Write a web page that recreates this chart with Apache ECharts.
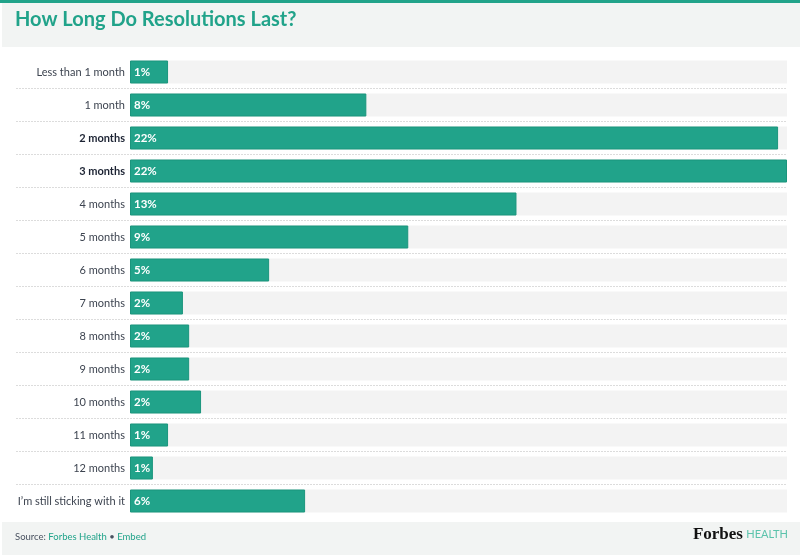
<!DOCTYPE html>
<html>
<head>
<meta charset="utf-8">
<script src="https://cdn.jsdelivr.net/npm/echarts@6/dist/echarts.min.js"></script>
<style>
  html, body { margin: 0; padding: 0; background: #fff; }
  #chart { width: 800px; height: 557px; }
</style>
</head>
<body>
<div id="chart"></div>
<script>
// 数据
var categories = [
	'Less than 1 month', '1 month', '2 months', '3 months', '4 months', '5 months', '6 months',
	'7 months', '8 months', '9 months', '10 months', '11 months', '12 months', 'I\u2019m still sticking with it'
]
var shares = [1.28, 7.95, 21.8, 22.1, 13.0, 9.36, 4.68, 1.78, 1.99, 1.99, 2.39, 1.28, 0.77, 5.89]
var boldCategories = ['2 months', '3 months']

var teal = '#21a38a'
var font = 'Lato, "Open Sans", sans-serif'

var rowH = 33
var top0 = 55.5

var chart = echarts.init(document.getElementById('chart'))

var option = {
	animation: false,
	backgroundColor: '#fff',
	graphic: [
		{ type: 'rect', shape: { x: 0, y: 0, width: 800, height: 3 }, style: { fill: teal } },
		{ type: 'rect', shape: { x: 2, y: 3, width: 798, height: 44 }, style: { fill: '#f2f4f3' } },
		{
			type: 'text', left: 15, top: 10,
			style: { text: 'How Long Do Resolutions Last?', fill: teal, font: 'bold 20px ' + font }
		},
		{ type: 'rect', shape: { x: 2, y: 522, width: 798, height: 33 }, style: { fill: '#f2f4f3' } },
		{
			type: 'text', left: 15, top: 532,
			style: {
				text: '{g|Source: }{t|Forbes Health}{g| \u2022 }{t|Embed}',
				rich: {
					g: { fill: '#4a5260', fontSize: 9.5, fontFamily: font },
					t: { fill: teal, fontSize: 9.5, fontFamily: font }
				}
			}
		},
		{
			type: 'text', right: 12, top: 526,
			style: {
				text: '{f|Forbes} {h|HEALTH}',
				rich: {
					f: { fill: '#111', fontSize: 17, fontWeight: 'bold', fontFamily: '"Liberation Serif", "DejaVu Serif", serif' },
					h: { fill: '#5cc3ac', fontSize: 11, fontFamily: font }
				}
			}
		}
	],
	grid: [
		{ left: 130, right: 13, top: top0, height: rowH * categories.length },
		// 行间虚线用
		{ left: 16, right: 13, top: top0 + rowH, height: rowH * (categories.length - 2) }
	],
	xAxis: [
		{ gridIndex: 0, type: 'value', min: 0, max: 'dataMax', show: false },
		{ gridIndex: 1, type: 'value', min: 0, max: 1, show: false }
	],
	yAxis: [
		{
			gridIndex: 0,
			type: 'category',
			inverse: true,
			data: categories,
			axisLine: { show: false },
			axisTick: { show: false },
			splitLine: { show: false },
			axisLabel: {
				margin: 5,
				formatter: function (v) {
					return boldCategories.indexOf(v) >= 0 ? '{b|' + v + '}' : '{n|' + v + '}'
				},
				rich: {
					n: { color: '#3d4450', fontSize: 11, fontFamily: font },
					b: { color: '#1c2333', fontSize: 11, fontWeight: 'bold', fontFamily: font }
				}
			}
		},
		{
			gridIndex: 1,
			type: 'value',
			inverse: true,
			min: 1,
			max: categories.length - 1,
			interval: 1,
			axisLine: { show: false },
			axisTick: { show: false },
			axisLabel: { show: false },
			splitLine: {
				show: true,
				lineStyle: { color: '#dcdcdc', type: [2, 1], width: 1 }
			}
		}
	],
	series: [
		{
			type: 'bar',
			xAxisIndex: 0,
			yAxisIndex: 0,
			data: shares,
			barWidth: 23,
			showBackground: true,
			backgroundStyle: { color: '#f3f3f3' },
			itemStyle: { color: teal, borderColor: '#1b957d', borderWidth: 1 },
			label: {
				show: true,
				position: 'insideLeft',
				distance: 4,
				color: '#fff',
				fontSize: 11.5,
				fontWeight: 'bold',
				fontFamily: font,
				formatter: function (p) { return Math.round(p.value) + '%' }
			}
		}
	]
}

chart.setOption(option)
</script>
</body>
</html>
